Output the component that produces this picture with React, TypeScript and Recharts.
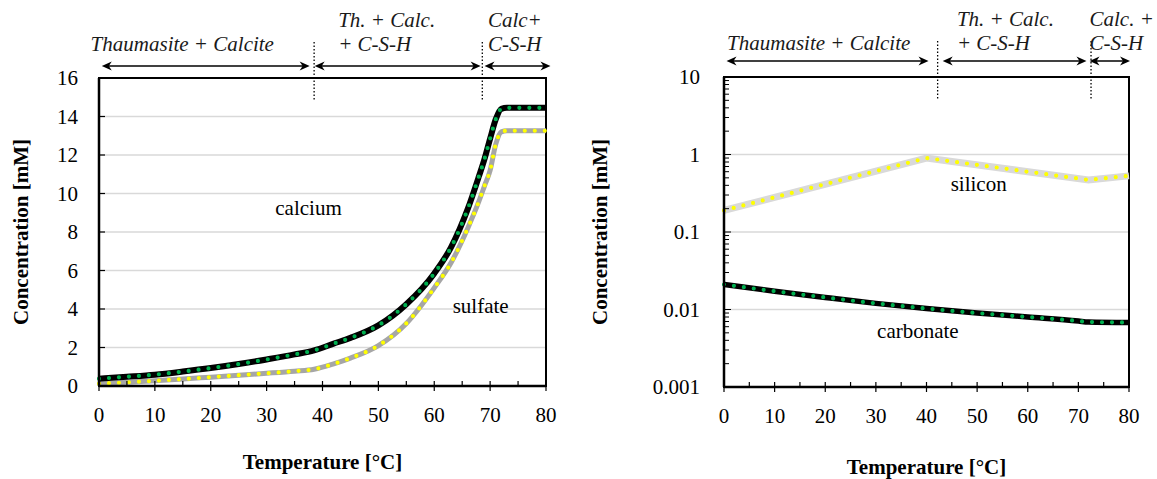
import React from "react";
import {
  LineChart,
  Line,
  XAxis,
  YAxis,
  CartesianGrid,
  ReferenceLine,
  ReferenceArea,
  ReferenceDot,
} from "recharts";

const FONT = '"Liberation Serif", "Times New Roman", serif';

// left panel: calcium / sulfate in mM against temperature
const tempsLeft = [0, 5, 10, 15, 20, 25, 30, 35, 38.5, 42, 45, 50, 55, 60, 63, 66, 68, 69, 70, 71, 72, 73, 80];
const calcium = [0.38, 0.48, 0.59, 0.75, 0.93, 1.14, 1.38, 1.64, 1.85, 2.2, 2.5, 3.15, 4.25, 5.85, 7.2, 9.2, 10.9, 11.8, 12.85, 13.85, 14.4, 14.45, 14.45];
const sulfate = [0.12, 0.19, 0.27, 0.36, 0.46, 0.56, 0.66, 0.77, 0.87, 1.15, 1.45, 2.1, 3.25, 5.1, 6.4, 8.2, 9.6, 10.4, 11.2, 12.55, 13.2, 13.26, 13.26];

// right panel: silicon / carbonate, log scale
const siliconTemps = [0, 40, 72, 80];
const silicon = [0.19, 0.9, 0.47, 0.53];
const carbonateTemps = [0, 10, 20, 30, 40, 50, 60, 70, 72, 80];
const carbonate = [0.021, 0.0172, 0.0143, 0.012, 0.0103, 0.009, 0.008, 0.0071, 0.0069, 0.0068];

const xTicks = [0, 5, 10, 15, 20, 25, 30, 35, 40, 45, 50, 55, 60, 65, 70, 75, 80];
const yTicksLeft = [0, 2, 4, 6, 8, 10, 12, 14, 16];
const yMajorRight = [0.001, 0.01, 0.1, 1, 10];
const minorSteps = [2, 3, 4, 5, 6, 7, 8, 9];
const yTicksRight = [
  ...yMajorRight,
  ...yMajorRight.slice(0, -1).flatMap((d) => minorSteps.map((k) => +(d * k).toPrecision(3))),
].sort((a, b) => a - b);

type Phase = { from: number; to: number; textAt: number; text: string[] };

const phasesLeft: Phase[] = [
  { from: 0.5, to: 37.7, textAt: -1.5, text: ["Thaumasite + Calcite"] },
  { from: 38.6, to: 68.3, textAt: 42.8, text: ["Th. + Calc.", "+ C-S-H"] },
  { from: 69.0, to: 80.8, textAt: 69.6, text: ["Calc+", "C-S-H"] },
];
const boundariesLeft = [38.5, 68.6];

const phasesRight: Phase[] = [
  { from: 0.5, to: 40.4, textAt: 0.6, text: ["Thaumasite + Calcite"] },
  { from: 43.2, to: 71.6, textAt: 46, text: ["Th. + Calc.", "+ C-S-H"] },
  { from: 72.2, to: 80.2, textAt: 72.2, text: ["Calc. +", "C-S-H"] },
];
const boundariesRight = [42.2, 72.5];

const tickText = { fontFamily: FONT, fontSize: 21, fill: "#000" };
const titleStyle = { textAnchor: "middle", fontWeight: 700, fontSize: 21, fontFamily: FONT, fill: "#000" } as any;
const curveLabel = { fontSize: 21, fontFamily: FONT, fill: "#000" };

function XTick(props: any) {
  const { x, y, payload } = props;
  const v = payload.value as number;
  const major = v % 10 === 0;
  return (
    <g>
      <line x1={x} x2={x} y1={y - 5} y2={major ? y + 5 : y} stroke="#000" strokeWidth={1.2} />
      {major && (
        <text x={x} y={y + 36} textAnchor="middle" {...tickText}>
          {v}
        </text>
      )}
    </g>
  );
}

function YTickLeft(props: any) {
  const { x, y, payload } = props;
  return (
    <g>
      <line x1={x} x2={x + 6} y1={y} y2={y} stroke="#000" strokeWidth={1.2} />
      <text x={x - 21} y={y + 7} textAnchor="end" {...tickText}>
        {payload.value}
      </text>
    </g>
  );
}

function YTickRight(props: any) {
  const { x, y, payload } = props;
  const v = payload.value as number;
  const major = yMajorRight.includes(v);
  return (
    <g>
      <line x1={x} x2={x + (major ? 7 : 5)} y1={y} y2={y} stroke="#000" strokeWidth={1} />
      {major && (
        <text x={x - 24} y={y + 7} textAnchor="end" {...tickText}>
          {String(v)}
        </text>
      )}
    </g>
  );
}

// double arrow over the plot with the phase name above it
function phaseShape(p: Phase, lift: number) {
  return (props: any) => {
    const { x1, x2, y1 } = props;
    const y = y1 - lift;
    const k = (x2 - x1) / (p.to - p.from);
    const tx = x1 + (p.textAt - p.from) * k;
    const n = p.text.length;
    const h = 10;
    const w = 4.5;
    return (
      <g>
        <line x1={x1 + 4} x2={x2 - 4} y1={y} y2={y} stroke="#000" strokeWidth={1.6} />
        <path d={`M${x1},${y} L${x1 + h},${y - w} L${x1 + h - 3},${y} L${x1 + h},${y + w} Z`} fill="#000" />
        <path d={`M${x2},${y} L${x2 - h},${y - w} L${x2 - h + 3},${y} L${x2 - h},${y + w} Z`} fill="#000" />
        {p.text.map((s, i) => (
          <text
            key={s}
            x={tx}
            y={y1 - 27 - (n - 1 - i) * 24}
            fontStyle="italic"
            fontSize={21}
            fontFamily={FONT}
            fill="#1a1a1a"
          >
            {s}
          </text>
        ))}
      </g>
    );
  };
}

function boundaryShape(props: any) {
  const { x1, y1, y2 } = props;
  const top = Math.min(y1, y2);
  return <line x1={x1} x2={x1} y1={top - 36} y2={top + 22} stroke="#000" strokeWidth={1.3} strokeDasharray="1.5 2" />;
}

export default function App() {
  const leftData = tempsLeft.map((t, i) => ({ t, calcium: calcium[i], sulfate: sulfate[i] }));
  const siliconData = siliconTemps.map((t, i) => ({ t, v: silicon[i] }));
  const carbonateData = carbonateTemps.map((t, i) => ({ t, v: carbonate[i] }));

  return (
    <div style={{ position: "absolute", left: 0, top: 0, width: 1157, height: 479, background: "#fff", fontFamily: FONT }}>
      <div style={{ position: "absolute", left: 0, top: 0 }}>
        <LineChart width={580} height={479} data={leftData} margin={{ top: 78, right: 34, bottom: 0, left: 0 }}>
          <CartesianGrid vertical={false} stroke="#d9d9d9" strokeWidth={1.5} />
          <XAxis
            type="number"
            dataKey="t"
            domain={[0, 80]}
            ticks={xTicks}
            interval={0}
            height={93}
            tickSize={0}
            tickMargin={0}
            tickLine={false}
            tick={XTick}
            axisLine={{ stroke: "#000", strokeWidth: 2.5 }}
            label={{ value: "Temperature [°C]", position: "insideBottom", offset: 10, style: titleStyle }}
          />
          <YAxis
            type="number"
            domain={[0, 16]}
            ticks={yTicksLeft}
            interval={0}
            width={99}
            tickSize={0}
            tickMargin={0}
            tickLine={false}
            tick={YTickLeft}
            axisLine={{ stroke: "#000", strokeWidth: 2.5 }}
            label={{ value: "Concentration [mM]", angle: -90, position: "insideLeft", offset: 21, style: titleStyle }}
          />
          <ReferenceArea x1={0} x2={80} y1={0} y2={16} fill="none" stroke="#000" strokeWidth={2} ifOverflow="visible" />
          {boundariesLeft.map((b) => (
            <ReferenceLine key={b} x={b} ifOverflow="visible" shape={boundaryShape} />
          ))}
          {phasesLeft.map((p) => (
            <ReferenceLine
              key={p.from}
              segment={[{ x: p.from, y: 16 }, { x: p.to, y: 16 }]}
              ifOverflow="visible"
              shape={phaseShape(p, 12)}
            />
          ))}
          <Line dataKey="sulfate" type="monotone" stroke="#a6a6a6" strokeWidth={5} dot={false} isAnimationActive={false} />
          <Line dataKey="sulfate" type="monotone" stroke="#ffff00" strokeWidth={4.2} strokeDasharray="0 10" strokeLinecap="round" dot={false} isAnimationActive={false} />
          <Line dataKey="calcium" type="monotone" stroke="#000" strokeWidth={6} dot={false} isAnimationActive={false} />
          <Line dataKey="calcium" type="monotone" stroke="#00b050" strokeWidth={4.2} strokeDasharray="0 10" strokeLinecap="round" dot={false} isAnimationActive={false} />
          <ReferenceDot x={37.5} y={9.25} r={0} label={{ value: "calcium", position: "center", ...curveLabel }} />
          <ReferenceDot x={68.3} y={4.16} r={0} label={{ value: "sulfate", position: "center", ...curveLabel }} />
        </LineChart>
      </div>

      <div style={{ position: "absolute", left: 580, top: 0 }}>
        <LineChart width={577} height={479} margin={{ top: 77, right: 28, bottom: 0, left: 0 }}>
          <CartesianGrid vertical={false} horizontalValues={[0.01, 0.1, 1]} stroke="#d9d9d9" strokeWidth={1.5} />
          <XAxis
            type="number"
            dataKey="t"
            domain={[0, 80]}
            ticks={xTicks}
            interval={0}
            height={92}
            tickSize={0}
            tickMargin={0}
            tickLine={false}
            tick={XTick}
            axisLine={{ stroke: "#000", strokeWidth: 2.5 }}
            label={{ value: "Temperature [°C]", position: "insideBottom", offset: 5, style: titleStyle }}
          />
          <YAxis
            type="number"
            scale="log"
            domain={[0.001, 10]}
            allowDataOverflow
            ticks={yTicksRight}
            interval={0}
            width={144}
            tickSize={0}
            tickMargin={0}
            tickLine={false}
            tick={YTickRight}
            axisLine={{ stroke: "#000", strokeWidth: 2.5 }}
            label={{ value: "Concentration [mM]", angle: -90, position: "insideLeft", offset: 20, style: titleStyle }}
          />
          <ReferenceArea x1={0} x2={80} y1={0.001} y2={10} fill="none" stroke="#000" strokeWidth={2} ifOverflow="visible" />
          {boundariesRight.map((b) => (
            <ReferenceLine key={b} x={b} ifOverflow="visible" shape={boundaryShape} />
          ))}
          {phasesRight.map((p) => (
            <ReferenceLine
              key={p.from}
              segment={[{ x: p.from, y: 10 }, { x: p.to, y: 10 }]}
              ifOverflow="visible"
              shape={phaseShape(p, 16)}
            />
          ))}
          <Line data={siliconData} dataKey="v" type="linear" stroke="#d9d9d9" strokeWidth={7} dot={false} isAnimationActive={false} />
          <Line data={siliconData} dataKey="v" type="linear" stroke="#ffff00" strokeWidth={4.2} strokeDasharray="0 10" strokeLinecap="round" dot={false} isAnimationActive={false} />
          <Line data={carbonateData} dataKey="v" type="monotone" stroke="#000" strokeWidth={5.5} dot={false} isAnimationActive={false} />
          <Line data={carbonateData} dataKey="v" type="monotone" stroke="#00b050" strokeWidth={4.2} strokeDasharray="0 10" strokeLinecap="round" dot={false} isAnimationActive={false} />
          <ReferenceDot x={50.3} y={0.42} r={0} label={{ value: "silicon", position: "center", ...curveLabel }} />
          <ReferenceDot x={38.3} y={0.0054} r={0} label={{ value: "carbonate", position: "center", ...curveLabel }} />
        </LineChart>
      </div>
    </div>
  );
}
